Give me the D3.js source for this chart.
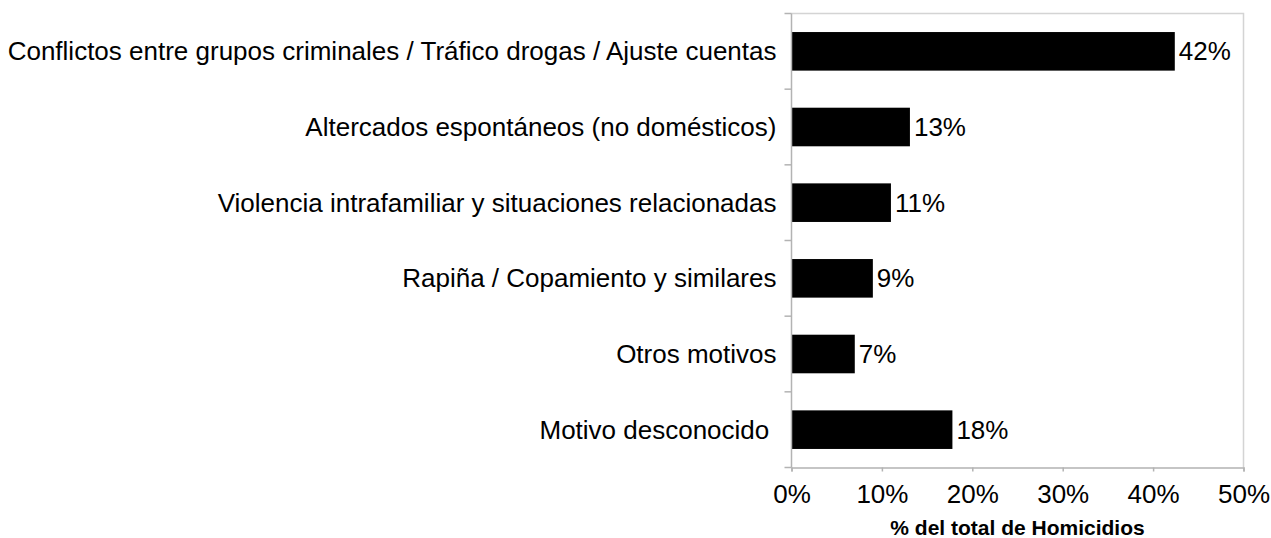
<!DOCTYPE html>
<html>
<head>
<meta charset="utf-8">
<script src="https://cdn.jsdelivr.net/npm/d3@7"></script>
<style>
    html, body { margin: 0; padding: 0; background: #fff; }
    svg { display: block; font-family: "Liberation Sans", Arial, sans-serif; }
</style>
</head>
<body>
<svg id="chart" width="1271" height="538"></svg>
<script>
// data
const categories = [
    "Conflictos entre grupos criminales / Tráfico drogas / Ajuste cuentas",
    "Altercados espontáneos (no domésticos)",
    "Violencia intrafamiliar y situaciones relacionadas",
    "Rapiña / Copamiento y similares",
    "Otros motivos",
    "Motivo desconocido "
];
const values = [42.4, 13.1, 11.0, 9.0, 7.0, 17.8];
const valueLabels = ["42%", "13%", "11%", "9%", "7%", "18%"];
const xTicks = [0, 10, 20, 30, 40, 50];
const xTitle = "% del total de Homicidios";

const FONT_SIZE = 26;
const width = 1271, height = 538;
const margin = { top: 13.5, right: 27.5, bottom: 70.5, left: 791.5 };
const innerW = width - margin.left - margin.right;
const innerH = height - margin.top - margin.bottom;

const svg = d3.select("#chart");
const g = svg.append("g").attr("transform", `translate(${margin.left},${margin.top})`);

const x = d3.scaleLinear().domain([0, 50]).range([0, innerW]);
const y = d3.scaleBand().domain(categories).range([0, innerH]).paddingInner(0.49).paddingOuter(0.245);
const yEdges = d3.scaleLinear().domain([0, categories.length]).range([0, innerH]);

// frame: top + right in light gray
g.append("path")
    .attr("d", `M0,0H${innerW}V${innerH}`)
    .attr("fill", "none")
    .attr("stroke", "#d4d4d4")
    .attr("stroke-width", 1.5);

// bars
g.selectAll("rect.bar")
    .data(values)
    .join("rect")
    .attr("class", "bar")
    .attr("x", 0)
    .attr("y", (d, i) => y(categories[i]))
    .attr("width", d => x(d))
    .attr("height", y.bandwidth())
    .attr("fill", "#000");

// y axis with ticks on the band edges
const yAxis = g.append("g");
yAxis.append("line")
    .attr("x1", 0).attr("x2", 0).attr("y1", 0).attr("y2", innerH)
    .attr("stroke", "#b3b3b3").attr("stroke-width", 1.5);
yAxis.selectAll("line.tick")
    .data(d3.range(categories.length + 1))
    .join("line")
    .attr("class", "tick")
    .attr("x1", -7).attr("x2", 0)
    .attr("y1", d => yEdges(d)).attr("y2", d => yEdges(d))
    .attr("stroke", "#b3b3b3").attr("stroke-width", 1.5);

// category labels
g.selectAll("text.cat")
    .data(categories)
    .join("text")
    .attr("class", "cat")
    .attr("x", -15)
    .attr("y", d => y(d) + y.bandwidth() / 2)
    .attr("dy", "0.35em")
    .attr("text-anchor", "end")
    .style("white-space", "pre")
    .attr("font-size", FONT_SIZE)
    .attr("fill", "#000")
    .text(d => d);

// value labels
g.selectAll("text.val")
    .data(values)
    .join("text")
    .attr("class", "val")
    .attr("x", d => x(d) + 4)
    .attr("y", (d, i) => y(categories[i]) + y.bandwidth() / 2)
    .attr("dy", "0.35em")
    .attr("font-size", FONT_SIZE)
    .attr("fill", "#000")
    .text((d, i) => valueLabels[i]);

// x axis
const xAxis = g.append("g")
    .attr("transform", `translate(0,${innerH})`)
    .call(d3.axisBottom(x).tickValues(xTicks).tickFormat(d => d + "%").tickSize(4).tickPadding(13));
xAxis.select(".domain").attr("stroke", "#b3b3b3").attr("stroke-width", 1.5);
xAxis.selectAll(".tick line").attr("stroke", "#b3b3b3").attr("stroke-width", 1.5);
xAxis.selectAll(".tick text")
    .attr("font-family", "Liberation Sans, Arial, sans-serif")
    .attr("font-size", FONT_SIZE)
    .attr("fill", "#000");

g.append("text")
    .attr("x", innerW / 2)
    .attr("y", innerH + 67)
    .attr("text-anchor", "middle")
    .attr("font-size", 21)
    .attr("font-weight", "bold")
    .attr("fill", "#000")
    .text(xTitle);
</script>
</body>
</html>
